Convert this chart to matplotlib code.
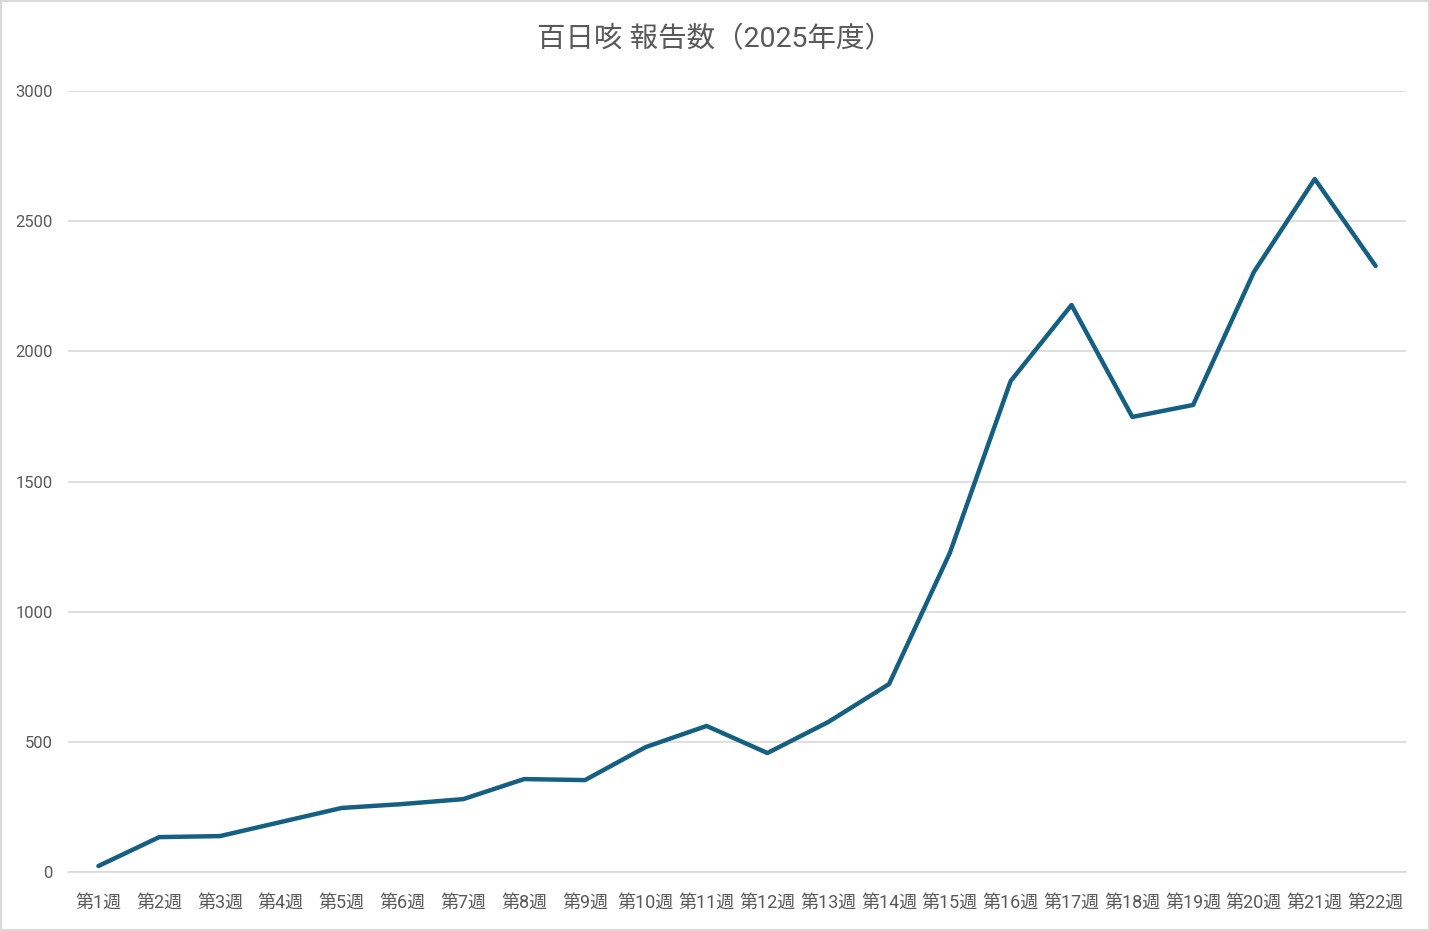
import matplotlib
matplotlib.use('Agg')
import matplotlib.pyplot as plt

plt.rcParams['font.family'] = ['Roboto', 'Noto Sans CJK JP', 'DejaVu Sans']

weeks = [f'第{i}週' for i in range(1, 23)]
reports = [23, 134, 138, 192, 246, 261, 280, 357, 353, 480, 561, 457,
           576, 722, 1226, 1886, 2178, 1748, 1794, 2305, 2662, 2328]
title = '百日咳 報告数（2025年度）'

text_color = '#595959'
line_color = '#156082'
grid_color = '#D9D9D9'

fig = plt.figure(figsize=(14.3, 9.31), dpi=100)
ax = fig.add_axes([68 / 1430, 1 - 872 / 931, 1338 / 1430, 781 / 931])

x = list(range(1, len(weeks) + 1))
ax.plot(x, reports, color=line_color, linewidth=3.2, solid_capstyle='round',
        solid_joinstyle='round', zorder=3)

ax.set_xlim(0.5, len(weeks) + 0.5)
ax.set_ylim(0, 3000)
ax.set_yticks(range(0, 3001, 500))
ax.set_xticks(x)
ax.set_xticklabels(weeks)
ax.tick_params(axis='both', length=0, colors=text_color)
ax.tick_params(axis='x', pad=16, labelsize=13)
ax.tick_params(axis='y', pad=11, labelsize=12)

ax.grid(axis='y', color=grid_color, linewidth=1.2)
ax.set_axisbelow(True)
for s in ['top', 'right', 'left']:
    ax.spines[s].set_visible(False)
ax.spines['bottom'].set_color(grid_color)
ax.spines['bottom'].set_linewidth(1.2)

fig.text(0.5, 1 - 40 / 931, title, ha='center', va='center', fontsize=20.5,
         color=text_color)

# light frame around the chart area
fig.patches.append(plt.Rectangle((0.0005, 0.0008), 0.999, 0.998, transform=fig.transFigure,
                                 fill=False, edgecolor='#D9D9D9', linewidth=1.5))

fig.savefig('out.png', dpi=100, facecolor='white')
